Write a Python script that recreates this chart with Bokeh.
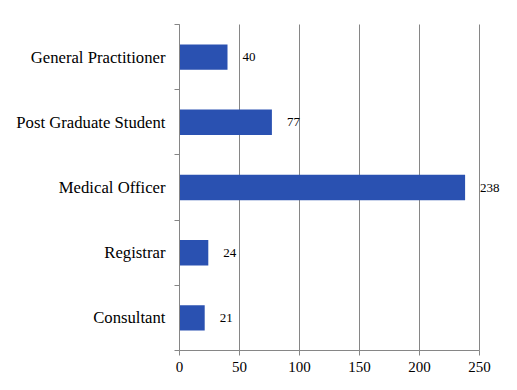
from bokeh.plotting import figure
from bokeh.models import ColumnDataSource, FixedTicker, Range1d, Grid
from bokeh.core.properties import value
from bokeh.embed import file_html
from bokeh.resources import INLINE

# Data (bottom to top)
categories = ["Consultant", "Registrar", "Medical Officer", "Post Graduate Student", "General Practitioner"]
counts = [21, 24, 238, 77, 40]
x_ticks = [0, 50, 100, 150, 200, 250]
x_tick_labels = ["0", "50", "100", "150", "200", "250"]

n = len(categories)
positions = [i + 0.5 for i in range(n)]
bar_src = ColumnDataSource(dict(y=positions, x=counts, lab=[str(c) for c in counts]))
cat_src = ColumnDataSource(dict(y=positions, x=[0] * n, cat=categories))
tick_src = ColumnDataSource(dict(x=x_ticks, y=[0] * len(x_ticks), lab=x_tick_labels))

FONT = "Liberation Serif"
GRID = "#868686"
BAR = "#2a51b1"

# layout (pixels): the plotting area spans the full canvas, axes are pinned inside it
W, H = 509, 382
PX_LEFT, PX_RIGHT = 179, 479          # x = 0 and x = 250
PY_TOP, PY_BOTTOM = 24, 350           # y = n and y = 0
XMAX = x_ticks[-1]
sx = (PX_RIGHT - PX_LEFT) / XMAX
sy = (PY_BOTTOM - PY_TOP) / n
x_range = Range1d(-PX_LEFT / sx, (W - PX_LEFT) / sx)
y_range = Range1d(-(H - PY_BOTTOM) / sy, n + PY_TOP / sy)

p = figure(width=W, height=H, output_backend="svg", toolbar_location=None,
           x_range=x_range, y_range=y_range, title=None,
           min_border_left=0, min_border_right=0, min_border_top=0, min_border_bottom=0)
p.outline_line_color = None

# grid lines, limited to the plotting area
p.xgrid.grid_line_color = None
p.ygrid.grid_line_color = None
if "cross_bounds" in Grid.properties():
    g = Grid(dimension=0, ticker=FixedTicker(ticks=x_ticks), bounds=(0, XMAX), cross_bounds=(0, n),
             grid_line_color=GRID, grid_line_width=1)
    p.add_layout(g)
else:
    p.segment(x0=x_ticks, y0=[0] * len(x_ticks), x1=x_ticks, y1=[n] * len(x_ticks),
              line_color=GRID, line_width=1)

p.hbar(y="y", right="x", left=0, height=0.39, source=bar_src, fill_color=BAR, line_color=None)

# value labels
p.text(x="x", y="y", text="lab", source=bar_src, x_offset=15,
       text_font=value(FONT), text_font_size=value("13px"), text_color="black",
       text_baseline="middle", text_align="left")

# category labels
p.text(x="x", y="y", text="cat", source=cat_src, x_offset=-14,
       text_font=value(FONT), text_font_size=value("16.7px"), text_color="black",
       text_baseline="middle", text_align="right")

# x tick labels
p.text(x="x", y="y", text="lab", source=tick_src, y_offset=11,
       text_font=value(FONT), text_font_size=value("15px"), text_color="black",
       text_baseline="top", text_align="center")

# x axis (line and ticks)
xa = p.xaxis[0]
xa.fixed_location = 0
xa.ticker = FixedTicker(ticks=x_ticks)
xa.bounds = (0, XMAX)
xa.axis_line_color = GRID
xa.major_tick_line_color = GRID
xa.major_tick_out = 5
xa.major_tick_in = 0
xa.minor_tick_line_color = None
xa.major_label_overrides = {t: "" for t in x_ticks}

# y axis: ticks at category boundaries
ya = p.yaxis[0]
ya.fixed_location = 0
ya.ticker = FixedTicker(ticks=positions, minor_ticks=list(range(n + 1)))
ya.bounds = (0, n)
ya.major_label_overrides = {pos: "" for pos in positions}
ya.axis_line_color = GRID
ya.major_tick_line_color = None
ya.major_tick_out = 0
ya.major_tick_in = 0
ya.minor_tick_line_color = GRID
ya.minor_tick_out = 5
ya.minor_tick_in = 0

open("out.html", "w").write(file_html(p, INLINE))
